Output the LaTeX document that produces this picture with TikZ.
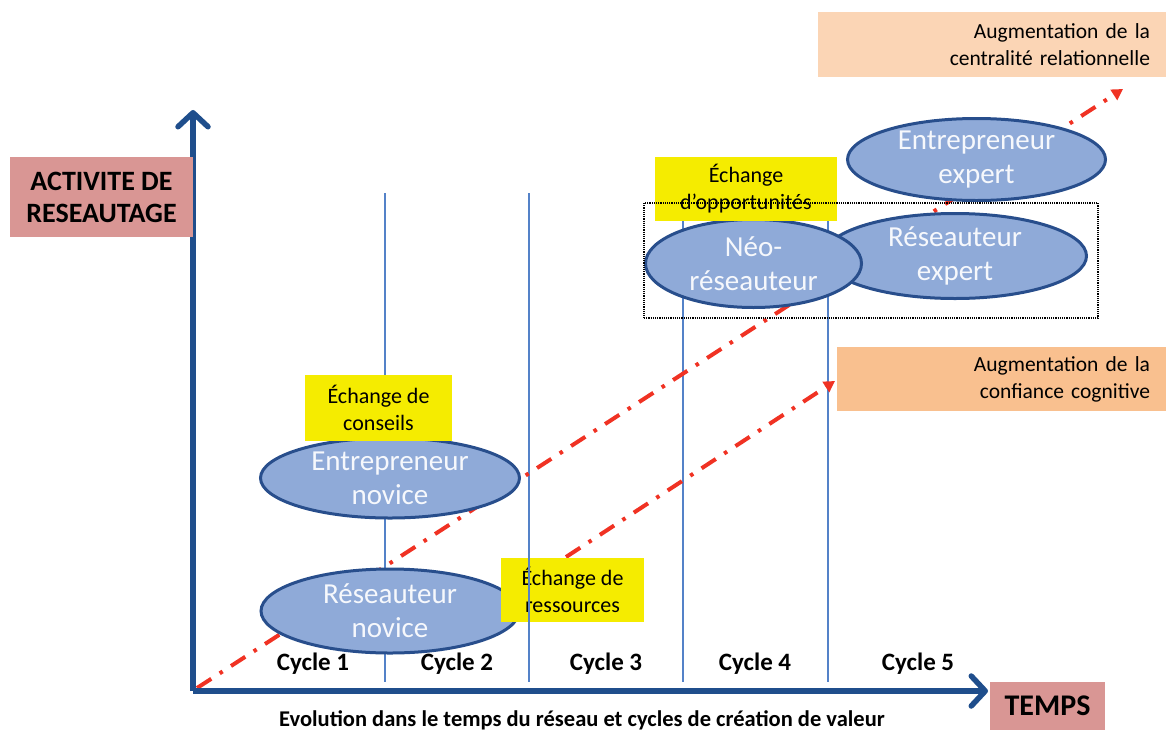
\documentclass[tikz,border=0pt]{standalone}
\usepackage{fontspec}
\setmainfont{Carlito}
\usetikzlibrary{shapes.geometric,arrows.meta}
\definecolor{axisblue}{RGB}{31,78,140}
\definecolor{gridblue}{RGB}{84,130,200}
\definecolor{ellfill}{RGB}{143,170,216}
\definecolor{elldraw}{RGB}{40,78,140}
\definecolor{echyellow}{RGB}{245,236,0}
\definecolor{axispink}{RGB}{217,150,148}
\definecolor{augpeach}{RGB}{251,213,181}
\definecolor{augorange}{RGB}{249,192,143}
\definecolor{trendred}{RGB}{240,50,35}
\begin{document}
\begin{tikzpicture}[x=1pt, y=-1pt,
    acteur/.style={ellipse, draw=elldraw, line width=3pt, fill=ellfill,
      text=white!92!ellfill, align=center, inner sep=0pt,
      font=\fontsize{29}{34}\selectfont},
    echange/.style={fill=echyellow, align=center, inner sep=0pt,
      font=\fontsize{22}{27}\selectfont},
    augment/.style={inner xsep=16pt, inner ysep=0pt, align=right,
      font=\fontsize{21.5}{27}\selectfont},
    axelabel/.style={fill=axispink, align=center, inner sep=0pt,
      font=\bfseries\fontsize{28}{32}\selectfont},
    cycle/.style={font=\bfseries\fontsize{25}{28}\selectfont},
    axe/.style={axisblue, line width=5.5pt,
      -{Straight Barb[length=14pt, width=30pt, round]}},
    tendance/.style={trendred, line width=4pt,
      dash pattern=on 17pt off 10pt on 3.5pt off 10pt,
      -{Triangle[length=11pt, width=12pt]}}]
  \useasboundingbox (0,0) rectangle (1166,731);

  % cycles
  \foreach \x/\t in {385/193, 529/193, 683/221, 828/221}
    \draw[gridblue, line width=1.5pt] (\x,\t) -- (\x,682);
  \foreach \x/\n in {313/1, 457/2, 606/3, 755/4, 918/5}
    \node[cycle] (cycle\n) at (\x,664) {Cycle \n};

  % tendances
  \coordinate (t1a) at (197,688);
  \coordinate (t1b) at (1123,89);
  \coordinate (t2a) at (566,557);
  \coordinate (t2b) at (835,381);
  \draw[tendance] (t1a) -- (t1b);
  \draw[tendance] (t2a) -- (t2b);

  \node[augment, fill=augpeach, text width=316pt, minimum height=65pt]
    (centralite) at (992,44.5) {Augmentation de la\\centralité relationnelle};
  \node[augment, fill=augorange, text width=297pt, minimum height=64pt]
    (confiance) at (1001.5,379) {Augmentation de la\\confiance cognitive};

  % acteurs
  \node[acteur, minimum width=258pt, minimum height=84pt] (resnov) at (390,611)
    {Réseauteur\\novice};
  \node[acteur, minimum width=259pt, minimum height=80pt] (entnov) at (390,478)
    {Entrepreneur\\novice};
  \node[acteur, minimum width=263pt, minimum height=85pt] (resexp) at (955,256)
    {Réseauteur\\expert};
  \node[acteur, minimum width=258pt, minimum height=82pt] (entexp) at (976.5,159.5)
    {Entrepreneur\\expert};
  \node[acteur, minimum width=216pt, minimum height=88pt] (neo) at (753.5,263.5)
    {Néo-\\réseauteur};

  % echanges
  \node[echange, minimum width=147pt, minimum height=66pt] (conseils) at (378.5,408)
    {Échange de\\conseils};
  \node[echange, minimum width=143pt, minimum height=64pt] (ressources) at (572.5,590)
    {Échange de\\ressources};
  \draw[gridblue, line width=1.5pt] (529,558) -- (529,622);
  \node[echange, minimum width=182pt, minimum height=64pt] (opportunites) at (746,188.5)
    {Échange\\d’opportunités};
  \node[draw, densely dotted, line width=1.2pt, minimum width=454pt,
    minimum height=115pt] (experts) at (871,260.5) {};

  % axes
  \coordinate (o) at (193,691);
  \coordinate (ytip) at (193,110);
  \coordinate (xtip) at (988,691);
  \draw[axe] (o) -- (ytip);
  \draw[axe] (o) -- (xtip);
  \node[axelabel, minimum width=183pt, minimum height=80pt] (activite) at (101.5,197)
    {ACTIVITE DE\\RESEAUTAGE};
  \node[axelabel, font=\bfseries\fontsize{30}{32}\selectfont,
    minimum width=115pt, minimum height=48pt] (temps) at (1047.5,706) {TEMPS};
  \node[font=\bfseries\fontsize{22.5}{24}\selectfont] (evolution) at (582,720)
    {Evolution dans le temps du réseau et cycles de création de valeur};
\end{tikzpicture}
\end{document}
